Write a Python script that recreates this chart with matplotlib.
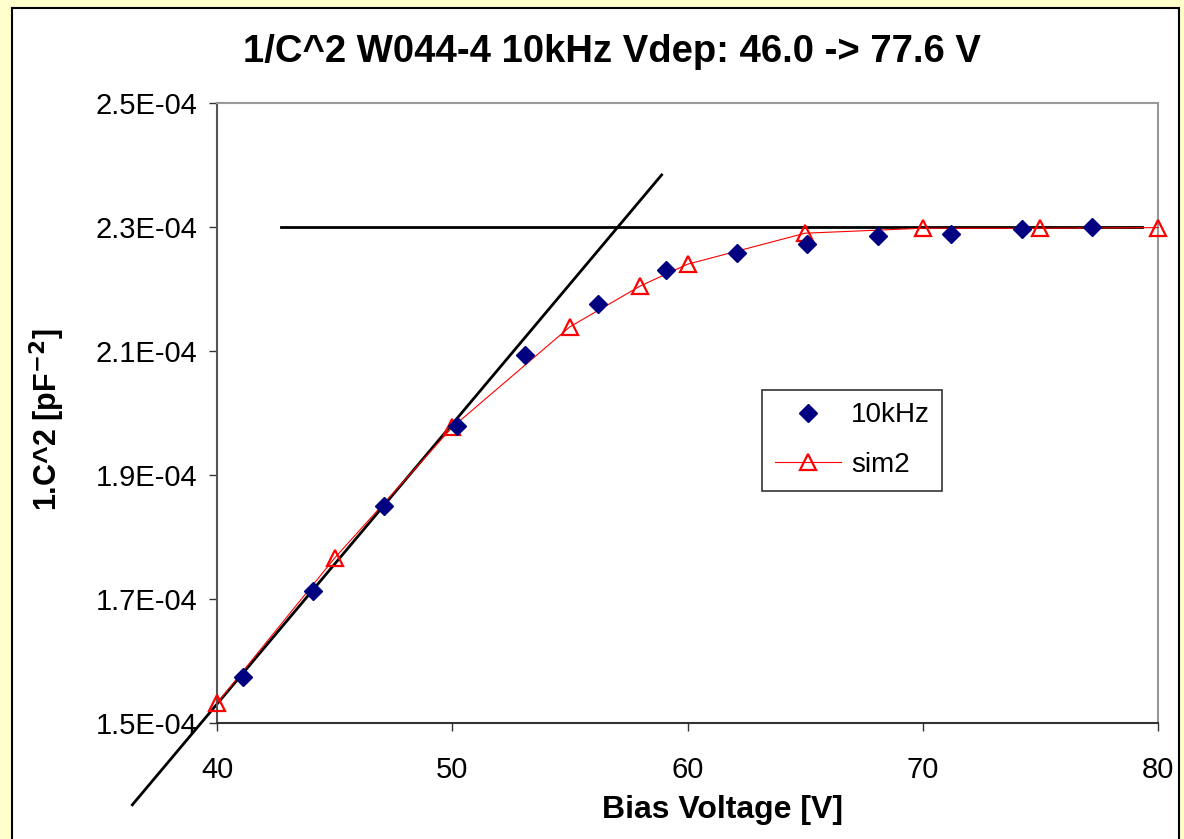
import matplotlib.pyplot as plt
from matplotlib.patches import Rectangle

plt.rcParams['font.family'] = ['Liberation Sans', 'DejaVu Sans']

# Mesures 10kHz
v_mesure = [41.1, 44.1, 47.1, 50.2, 53.1, 56.2, 59.1, 62.1, 65.1, 68.1, 71.2, 74.2, 77.2]
c2_mesure = [1.574e-4, 1.713e-4, 1.850e-4, 1.979e-4, 2.094e-4, 2.176e-4, 2.231e-4,
             2.258e-4, 2.273e-4, 2.285e-4, 2.289e-4, 2.297e-4, 2.300e-4]

# Simulation sim2
v_sim = [40, 45, 50, 55, 58, 60, 65, 70, 75, 80]
c2_sim = [1.532e-4, 1.766e-4, 1.977e-4, 2.139e-4, 2.205e-4, 2.240e-4, 2.290e-4,
          2.298e-4, 2.298e-4, 2.299e-4]

# Droites d'ajustement
pente_x = [36.4, 58.9]
pente_y = [1.368e-4, 2.384e-4]
plateau_x = [42.7, 79.3]
plateau_y = [2.300e-4, 2.300e-4]

y_ticks = [1.5e-4, 1.7e-4, 1.9e-4, 2.1e-4, 2.3e-4, 2.5e-4]
y_labels = ["1.5E-04", "1.7E-04", "1.9E-04", "2.1E-04", "2.3E-04", "2.5E-04"]
x_ticks = [40, 50, 60, 70, 80]

fig = plt.figure(figsize=(11.84, 8.39), dpi=100)
fig.patch.set_facecolor('#FFFFCC')
# Cadre blanc du graphique
fig.patches.append(Rectangle((12 / 1184, -0.01), 1167 / 1184, 1 - 8 / 839 + 0.01,
                             transform=fig.transFigure, facecolor='white',
                             edgecolor='black', linewidth=1.5, zorder=-1))

ax = fig.add_axes([217 / 1184, 1 - 723 / 839, (1158 - 217) / 1184, (723 - 103) / 839])
ax.set_zorder(2)
ax.set_xlim(40, 80)
ax.set_ylim(1.5e-4, 2.5e-4)

ax.plot(pente_x, pente_y, color='black', linewidth=2, clip_on=False, zorder=2)
ax.plot(plateau_x, plateau_y, color='black', linewidth=2, zorder=2)
ax.plot(v_sim, c2_sim, color='red', linewidth=0.8, marker='^', markersize=12,
        markerfacecolor='none', markeredgecolor='red', markeredgewidth=1.6,
        label='sim2', clip_on=False, zorder=3)
ax.plot(v_mesure, c2_mesure, linestyle='none', marker='D', markersize=9.5,
        color='#000080', label='10kHz', clip_on=False, zorder=4)

ax.set_xticks(x_ticks)
ax.set_yticks(y_ticks)
ax.set_yticklabels(y_labels)
ax.tick_params(direction='out', length=6, width=1, labelsize=21, color='#333333')
ax.tick_params(axis='y', pad=8)
ax.tick_params(axis='x', pad=18)
ax.spines['left'].set_color('#555555')
ax.spines['bottom'].set_color('#333333')
ax.spines['top'].set_color('#999999')
ax.spines['right'].set_color('#999999')
for s in ax.spines.values():
    s.set_linewidth(1.5)

handles, labels = ax.get_legend_handles_labels()
leg = ax.legend(handles[::-1], labels[::-1], loc='upper left',
                bbox_to_anchor=((762 - 217) / 941, 1 - (390 - 103) / 620),
                borderaxespad=0, fontsize=20, frameon=True, fancybox=False,
                borderpad=0.45, handlelength=2.4, handletextpad=0.35,
                labelspacing=0.85)
leg.get_frame().set_edgecolor('black')
leg.get_frame().set_linewidth(1.2)

fig.text(612 / 1184, 1 - 52 / 839, "1/C^2 W044-4 10kHz Vdep: 46.0 -> 77.6 V",
         ha='center', va='center', fontsize=27.5, fontweight='bold')
fig.text(723 / 1184, 1 - 810 / 839, "Bias Voltage [V]",
         ha='center', va='center', fontsize=23, fontweight='bold')
fig.text(47 / 1184, 1 - 420 / 839, r"1.C^2 [pF$^{\mathbf{-2}}$]", rotation=90,
         ha='center', va='center', fontsize=22, fontweight='bold')

fig.savefig('out.png', dpi=100, facecolor=fig.get_facecolor())
